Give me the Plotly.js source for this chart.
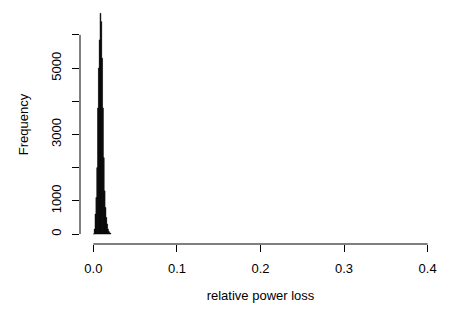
<!DOCTYPE html>
<html>
<head>
<meta charset="utf-8">
<script src="https://cdn.plot.ly/plotly-3.0.1.min.js"></script>
<style>
  html, body { margin: 0; padding: 0; background: #fff; }
  #chart { width: 451px; height: 313px; }
</style>
</head>
<body>
<div id="chart"></div>
<script>
// Histogram bins (left edges of bins, width 0.001) and frequencies
const binStarts = [0.000, 0.001, 0.002, 0.003, 0.004, 0.005, 0.006, 0.007, 0.008, 0.009,
                   0.010, 0.011, 0.012, 0.013, 0.014, 0.015, 0.016, 0.017, 0.018, 0.019, 0.020];
const frequencies = [0, 150, 600, 1100, 2000, 3800, 5000, 5850, 6650, 6400,
                     5300, 3800, 2300, 1300, 800, 500, 300, 150, 80, 40, 20];
const binWidth = 0.001;

const xTickVals = [0.0, 0.1, 0.2, 0.3, 0.4];
const xTickText = ["0.0", "0.1", "0.2", "0.3", "0.4"];
const yTickVals = [0, 1000, 2000, 3000, 4000, 5000, 6000];
const yTickText = ["0", "1000", "", "3000", "", "5000", ""];

const xTitle = "relative power loss";
const yTitle = "Frequency";

const font = { family: "Liberation Sans, Arial, Helvetica, sans-serif", size: 13, color: "#000" };

const trace = {
  type: "bar",
  x: binStarts.map(b => b + binWidth / 2),
  y: frequencies,
  width: binWidth,
  marker: { color: "#000", line: { color: "#000", width: 0.5 } },
  hoverinfo: "skip"
};

const layout = {
  width: 451,
  height: 313,
  margin: { l: 80, r: 10, t: 5, b: 68.5 },
  paper_bgcolor: "#fff",
  plot_bgcolor: "#fff",
  font: font,
  showlegend: false,
  bargap: 0,
  xaxis: {
    range: [-0.016, 0.416],
    tickvals: xTickVals,
    ticktext: xTickText,
    ticks: "outside",
    ticklen: 7,
    tickwidth: 1,
    tickcolor: "#000",
    showgrid: false,
    zeroline: false,
    showline: false,
    ticklabelstandoff: 5,
    tickfont: font,
    title: { text: xTitle, font: font, standoff: 16 }
  },
  yaxis: {
    range: [-301, 6902],
    tickvals: yTickVals,
    ticktext: yTickText,
    tickangle: -90,
    ticks: "outside",
    ticklen: 7,
    tickwidth: 1,
    tickcolor: "#000",
    showgrid: false,
    zeroline: false,
    showline: false,
    ticklabelstandoff: 6,
    tickfont: font,
    title: { text: yTitle, font: font, standoff: 17 }
  },
  shapes: [
    { type: "line", xref: "x", yref: "paper",
      x0: xTickVals[0], x1: xTickVals[xTickVals.length - 1], y0: 0, y1: 0,
      line: { color: "#000", width: 1 } },
    { type: "line", xref: "paper", yref: "y",
      x0: 0, x1: 0, y0: yTickVals[0], y1: yTickVals[yTickVals.length - 1],
      line: { color: "#000", width: 1 } }
  ]
};

Plotly.newPlot("chart", [trace], layout, { staticPlot: true, displayModeBar: false });
</script>
</body>
</html>
